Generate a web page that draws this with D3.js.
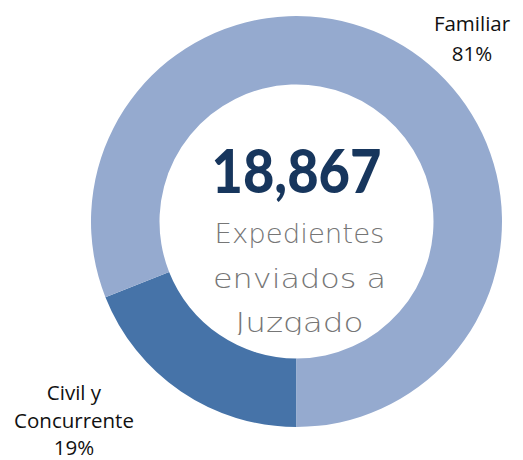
<!DOCTYPE html>
<html>
<head>
<meta charset="utf-8">
<script src="https://cdn.jsdelivr.net/npm/d3@7"></script>
<style>
  html, body { margin: 0; padding: 0; background: #ffffff; }
  svg { display: block; }
</style>
</head>
<body>
<svg id="chart" width="523" height="460"></svg>
<script>
// Expedientes enviados a juzgado, por materia
const categories = ["Civil y Concurrente", "Familiar"];
const shares = [19, 81];
const labelLines = [["Civil y", "Concurrente", "19%"], ["Familiar", "81%"]];
const totalLabel = "18,867";
const centerLines = ["Expedientes", "enviados a", "Juzgado"];
const centerWidths = [170, 173, 128];
const colors = ["#4673A8", "#95AACF"];

const svg = d3.select("#chart");
const cx = 296.5, cy = 221.5;
const outerR = 205.5, innerR = 137;

const pie = d3.pie().sort(null).value(d => d)
  .startAngle(Math.PI).endAngle(3 * Math.PI);
const arc = d3.arc().innerRadius(innerR).outerRadius(outerR);

const g = svg.append("g").attr("transform", `translate(${cx},${cy})`);
g.selectAll("path.slice")
  .data(pie(shares))
  .join("path")
  .attr("class", "slice")
  .attr("d", arc)
  .attr("fill", (d, i) => colors[i]);

// Category labels outside the ring
const labelPos = [
  { x: 74, y: 400, dy: 27.5 },
  { x: 472, y: 31, dy: 30 }
];
labelLines.forEach((lines, i) => {
  const t = svg.append("text")
    .attr("text-anchor", "middle")
    .attr("font-family", "'Open Sans', 'Noto Sans', sans-serif")
    .attr("font-size", 20.5)
    .attr("fill", "#111111");
  lines.forEach((ln, j) => {
    t.append("tspan")
      .attr("x", labelPos[i].x)
      .attr("y", labelPos[i].y + j * labelPos[i].dy)
      .text(ln);
  });
});

// Center total
svg.append("text")
  .attr("x", cx)
  .attr("y", 193)
  .attr("text-anchor", "middle")
  .attr("font-family", "'Lato', 'DejaVu Sans', sans-serif")
  .attr("font-weight", 900)
  .attr("font-size", 60)
  .attr("fill", "#17365D")
  .attr("textLength", 170)
  .attr("lengthAdjust", "spacingAndGlyphs")
  .text(totalLabel);

// Center caption, cut at the bottom of its text box
svg.append("clipPath").attr("id", "capClip")
  .append("rect").attr("x", 150).attr("y", 195).attr("width", 300).attr("height", 140);

const capG = svg.append("g").attr("clip-path", "url(#capClip)");
centerLines.forEach((ln, j) => {
  capG.append("text")
    .attr("x", cx + 3)
    .attr("y", 243 + j * 44.5)
    .attr("text-anchor", "middle")
    .attr("font-family", "'DejaVu Sans', sans-serif")
    .attr("font-weight", 200)
    .attr("font-size", 26)
    .attr("fill", "#767676")
    .attr("textLength", centerWidths[j])
    .attr("lengthAdjust", "spacingAndGlyphs")
    .text(ln);
});
</script>
</body>
</html>
